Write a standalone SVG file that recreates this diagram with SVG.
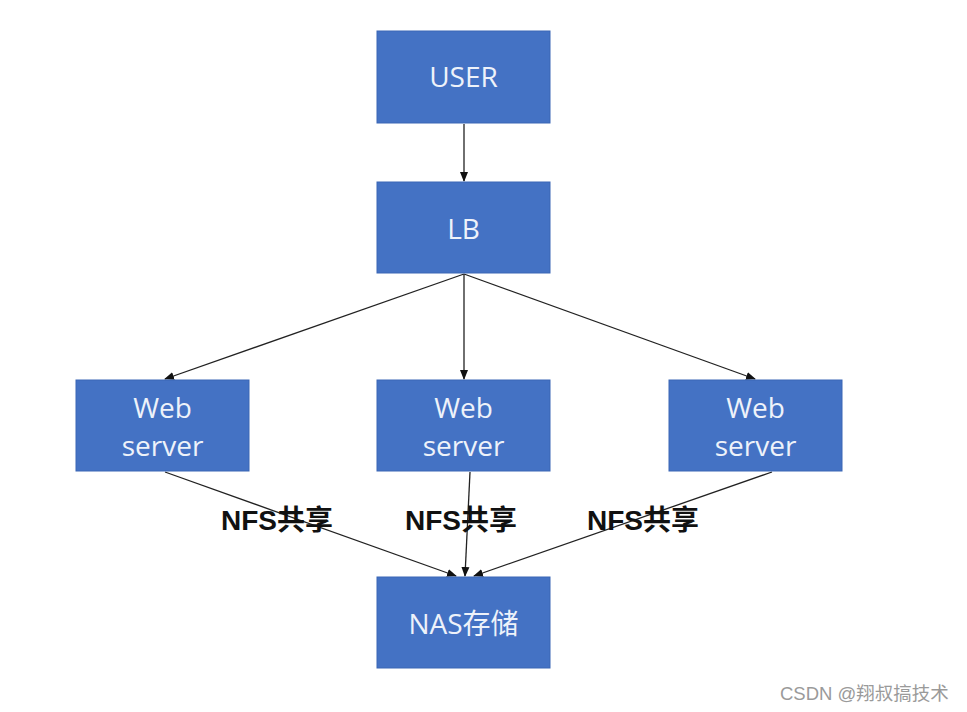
<svg xmlns="http://www.w3.org/2000/svg" width="967" height="712" viewBox="0 0 967 712">
<defs>
<style>
.box{fill:#4472C4;stroke:#3A66B5;stroke-width:1}
.lbl{fill:#EEF2FA;font-family:"Open Sans","Noto Sans","Noto Sans CJK SC",sans-serif;font-size:28px;text-anchor:middle}
.edge{stroke:#222;stroke-width:1.3;fill:none;marker-end:url(#ah)}
.nfs{fill:#111;font-family:"Liberation Sans","Noto Sans CJK SC",sans-serif;font-size:28px;font-weight:bold;text-anchor:middle}
.wm{fill:#9a9a9a;font-family:"Liberation Sans","Noto Sans CJK SC",sans-serif;font-size:18.5px}
</style>
<marker id="ah" markerWidth="10" markerHeight="10" refX="9" refY="5" orient="auto" markerUnits="userSpaceOnUse">
<path d="M0,1 L10,5 L0,9 Z" fill="#111"/>
</marker>
</defs>
<rect width="967" height="712" fill="#fff"/>
<g id="connectors">
<line class="edge" x1="464" y1="124" x2="464" y2="181"/>
<line class="edge" x1="464" y1="274" x2="165" y2="379"/>
<line class="edge" x1="464" y1="274" x2="464" y2="379"/>
<line class="edge" x1="464" y1="274" x2="755" y2="379"/>
<line class="edge" x1="165" y1="472" x2="456" y2="576"/>
<line class="edge" x1="470" y1="472" x2="465" y2="576"/>
<line class="edge" x1="772" y1="472" x2="474" y2="576"/>
</g>
<g id="user"><rect class="box" x="377" y="31" width="173" height="92"/><text class="lbl" x="463.5" y="87">USER</text></g>
<g id="lb"><rect class="box" x="377" y="182" width="173" height="91"/><text class="lbl" x="463.5" y="239">LB</text></g>
<g id="web1"><rect class="box" x="76" y="380" width="173" height="91"/><text class="lbl" x="162.5" y="418">Web</text><text class="lbl" x="162.5" y="456">server</text></g>
<g id="web2"><rect class="box" x="377" y="380" width="173" height="91"/><text class="lbl" x="463.5" y="418">Web</text><text class="lbl" x="463.5" y="456">server</text></g>
<g id="web3"><rect class="box" x="669" y="380" width="173" height="91"/><text class="lbl" x="755.5" y="418">Web</text><text class="lbl" x="755.5" y="456">server</text></g>
<g id="nas"><rect class="box" x="377" y="577" width="173" height="91"/><text class="lbl" x="463.5" y="634">NAS存储</text></g>
<g id="labels">
<text class="nfs" x="277" y="530">NFS共享</text>
<text class="nfs" x="461" y="530">NFS共享</text>
<text class="nfs" x="643" y="530">NFS共享</text>
</g>
<text class="wm" x="780" y="700">CSDN @翔叔搞技术</text>
</svg>
